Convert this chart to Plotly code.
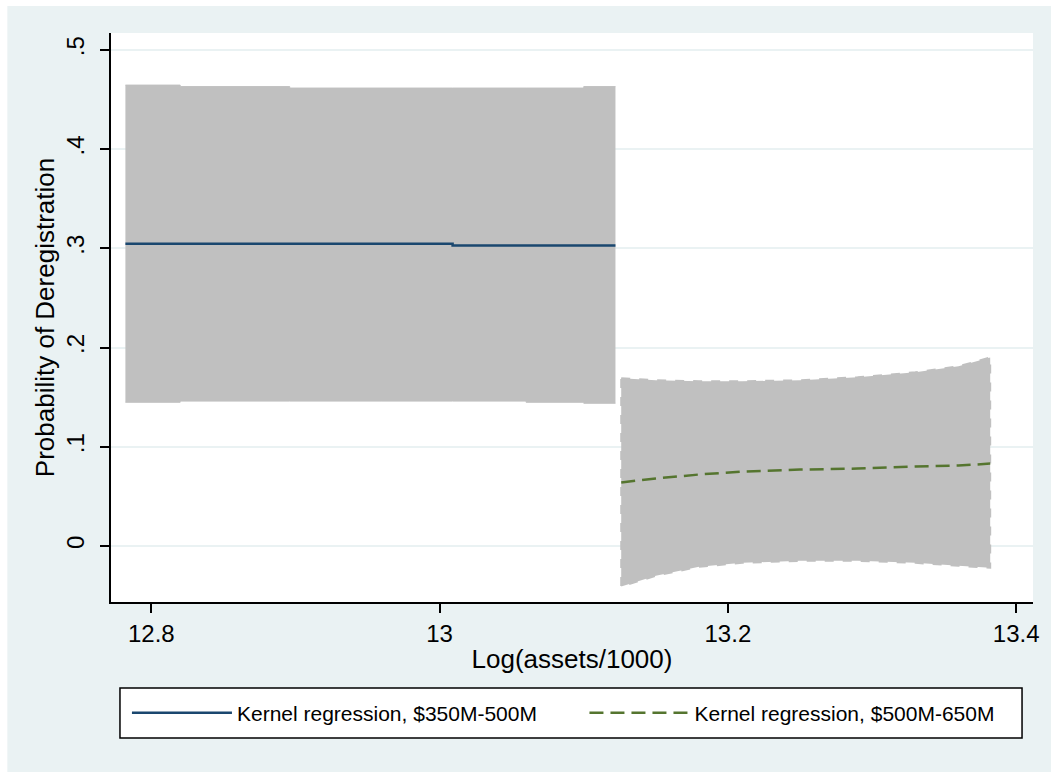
import plotly.graph_objects as go

# ---- data ----
x1 = [12.782, 12.820, 12.896, 12.960, 13.009, 13.060, 13.100, 13.122]
y1 = [0.3045, 0.3045, 0.3045, 0.3045, 0.3028, 0.3028, 0.3028, 0.3028]
hi1 = [0.4645, 0.4630, 0.4615, 0.4615, 0.4615, 0.4615, 0.4630, 0.4630]
lo1 = [0.1448, 0.1460, 0.1460, 0.1460, 0.1460, 0.1448, 0.1438, 0.1438]

x2 = [13.126, 13.150, 13.180, 13.210, 13.250, 13.290, 13.330, 13.360, 13.382]
y2 = [0.064, 0.068, 0.072, 0.075, 0.077, 0.078, 0.080, 0.081, 0.083]
hi2 = [0.169, 0.167, 0.166, 0.166, 0.167, 0.170, 0.175, 0.181, 0.190]
lo2 = [-0.041, -0.030, -0.021, -0.017, -0.015, -0.015, -0.017, -0.020, -0.022]

x_ticks = [12.8, 13.0, 13.2, 13.4]
x_labels = ["12.8", "13", "13.2", "13.4"]
y_ticks = [0, 0.1, 0.2, 0.3, 0.4, 0.5]
y_labels = ["0", ".1", ".2", ".3", ".4", ".5"]

names = ["Kernel regression, $350M-500M", "Kernel regression, $500M-650M"]

BLUE = "#1a476f"
GREEN = "#55752f"
GRAY = "#c0c0c0"
BG = "#eaf2f3"
FONT = "Liberation Sans, Arial, sans-serif"

fig = go.Figure()

# CI band 1
fig.add_trace(go.Scatter(x=x1, y=lo1, mode="lines", line=dict(color=GRAY, width=1, shape="hv"),
                         showlegend=False, hoverinfo="skip"))
fig.add_trace(go.Scatter(x=x1, y=hi1, mode="lines", line=dict(color=GRAY, width=1, shape="hv"),
                         fill="tonexty", fillcolor=GRAY, showlegend=False, hoverinfo="skip"))
# CI band 2 (polygon)
fig.add_trace(go.Scatter(x=x2 + x2[::-1] + [x2[0]], y=hi2 + lo2[::-1] + [hi2[0]], mode="lines",
                         line=dict(color=GRAY, width=2, dash="dash"),
                         fill="toself", fillcolor=GRAY, showlegend=False, hoverinfo="skip"))

fig.add_trace(go.Scatter(x=x1, y=y1, mode="lines", name=names[0], legend="legend",
                         line=dict(color=BLUE, width=2.5, shape="hv")))
fig.add_trace(go.Scatter(x=x2, y=y2, mode="lines", name=names[1], legend="legend2",
                         line=dict(color=GREEN, width=2.5, dash="14px,7px")))

W, H = 1051, 772
L, R, T, B = 111, 15, 33, 170
pw, ph = W - L - R, H - T - B

def px(x):
    return (x - L) / pw

def py(y):
    return (H - B - y) / ph

shapes = [
    dict(type="rect", xref="paper", yref="paper", x0=px(7), x1=px(W + 5), y0=py(H + 5), y1=py(6),
         fillcolor=BG, line=dict(width=0), layer="below"),
    dict(type="rect", xref="paper", yref="paper", x0=0, x1=1, y0=0, y1=1,
         fillcolor="white", line=dict(width=0), layer="below"),
    dict(type="rect", xref="paper", yref="paper", x0=px(120), x1=px(1025), y0=py(738), y1=py(688),
         fillcolor="white", line=dict(color="black", width=1.5), layer="below"),
]

leg_common = dict(orientation="h", xanchor="left", y=py(713), yanchor="middle",
                  bgcolor="rgba(0,0,0,0)", borderwidth=0, font=dict(size=21, family=FONT),
                  itemwidth=100)

fig.update_layout(
    width=W, height=H,
    margin=dict(l=L, r=R, t=T, b=B, pad=0),
    paper_bgcolor="white",
    plot_bgcolor="rgba(0,0,0,0)",
    font=dict(family=FONT, color="black"),
    shapes=shapes,
    showlegend=True,
    legend=dict(x=px(127), **leg_common),
    legend2=dict(x=px(586), **leg_common),
    xaxis=dict(range=[12.772, 13.4117], tickvals=x_ticks, ticktext=x_labels,
               showgrid=False, zeroline=False, showline=True, linecolor="black", linewidth=1.5,
               ticks="outside", ticklen=9, tickwidth=1.5, tickcolor="black",
               tickfont=dict(size=24), mirror=False,
               title=dict(text="Log(assets/1000)", font=dict(size=26), standoff=4)),
    yaxis=dict(range=[-0.0565, 0.517], tickvals=y_ticks, ticktext=y_labels, tickangle=-90,
               showgrid=True, gridcolor=BG, gridwidth=1.5, zeroline=False,
               showline=True, linecolor="black", linewidth=1.5,
               ticks="outside", ticklen=9, tickwidth=1.5, tickcolor="black",
               tickfont=dict(size=24), ticklabelstandoff=7,
               title=dict(text="Probability of Deregistration", font=dict(size=26), standoff=0)),
)

fig.write_html("out.html", config={"displayModeBar": False},
               post_script="document.body.style.margin='0px';")
